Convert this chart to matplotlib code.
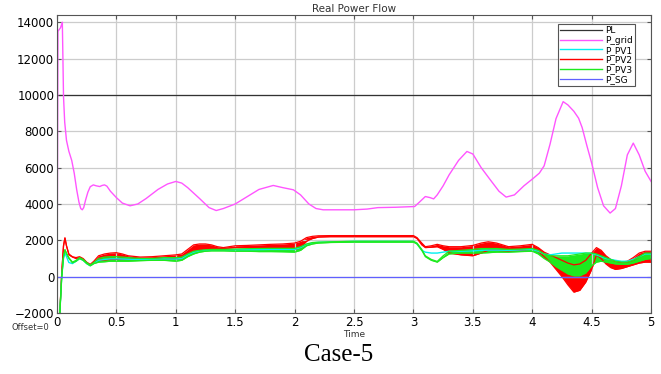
import matplotlib.pyplot as plt
import numpy as np

# P_grid (magenta) trace
t_grid = [0.0, 0.008, 0.03, 0.045, 0.05, 0.055, 0.065, 0.08, 0.1, 0.124, 0.145, 0.166,
          0.185, 0.2, 0.213, 0.225, 0.24, 0.26, 0.28, 0.306, 0.33, 0.36, 0.38, 0.40,
          0.42, 0.45, 0.5, 0.55, 0.615, 0.68, 0.75, 0.85, 0.93, 1.0, 1.05, 1.1, 1.2,
          1.28, 1.34, 1.4, 1.5, 1.6, 1.7, 1.82, 1.9, 1.99, 2.05, 2.12, 2.18, 2.24, 2.4,
          2.5, 2.61, 2.7, 2.85, 3.01, 3.05, 3.1, 3.14, 3.17, 3.2, 3.25, 3.3, 3.38, 3.45,
          3.5, 3.57, 3.65, 3.72, 3.78, 3.85, 3.93, 4.01, 4.06, 4.1, 4.15, 4.2, 4.26,
          4.3, 4.35, 4.39, 4.42, 4.46, 4.5, 4.55, 4.6, 4.655, 4.7, 4.75, 4.8, 4.85, 4.9,
          4.95, 5.0]
p_grid = [-3000, 13500, 13700, 14000, 12000, 9900, 8500, 7500, 6900, 6400, 5700, 4780,
          4100, 3750, 3680, 3800, 4200, 4650, 4950, 5050, 5000, 4960, 5020, 5050,
          4980, 4700, 4350, 4050, 3900, 4000, 4300, 4800, 5100, 5240, 5150, 4900, 4300,
          3800, 3640, 3750, 4000, 4400, 4800, 5020, 4900, 4780, 4500, 4000, 3750, 3680, 3680,
          3680, 3720, 3800, 3820, 3860, 4100, 4410, 4350, 4280, 4500, 5000, 5600, 6400, 6890,
          6750, 6000, 5300, 4700, 4380, 4500, 5000, 5420, 5700, 6100, 7300, 8700, 9630,
          9450, 9100, 8720, 8200, 7200, 6250, 4900, 3900, 3500, 3750, 5000, 6700, 7350, 6700,
          5800, 5240]

# time base shared by the PV traces
t_pv = [0, 0.02, 0.04, 0.055, 0.067, 0.08, 0.1, 0.13, 0.16, 0.19, 0.22, 0.25, 0.28,
        0.31, 0.35, 0.4, 0.45, 0.5, 0.55, 0.6, 0.7, 0.8, 0.9, 1.0, 1.05, 1.1, 1.15, 1.2,
        1.25, 1.3, 1.35, 1.4, 1.5, 1.6, 1.7, 1.8, 1.9, 2.0, 2.05, 2.1, 2.15, 2.2, 2.3,
        2.5, 2.8, 3.0, 3.03, 3.07, 3.1, 3.15, 3.2, 3.25, 3.3, 3.4, 3.5, 3.57, 3.63, 3.7,
        3.8, 3.9, 4.0, 4.05, 4.1, 4.15, 4.2, 4.25, 4.3, 4.35, 4.4, 4.45, 4.5, 4.54, 4.58,
        4.62, 4.66, 4.7, 4.75, 4.8, 4.85, 4.9, 4.95, 5.0]

# P_PV2 (red) oscillation envelope
pv2_hi = [-4000, -2500, 200, 1700, 2130, 1700, 1250, 1100, 1050, 1100, 1000, 800, 680,
          850, 1150, 1250, 1300, 1320, 1250, 1150, 1080, 1100, 1150, 1200, 1250, 1500, 1750,
          1800, 1800, 1750, 1650, 1600, 1700, 1720, 1750, 1780, 1800, 1850, 1950, 2150,
          2220, 2250, 2260, 2260, 2260, 2260, 2150, 1850, 1650, 1700, 1780, 1700, 1650, 1650,
          1720, 1850, 1920, 1850, 1650, 1700, 1780, 1600, 1350, 1200, 1050, 900, 750, 650,
          700, 900, 1300, 1600, 1450, 1150, 950, 850, 800, 850, 1050, 1300, 1400, 1400]
pv2_lo = [-4000, -2500, 200, 1700, 2130, 1700, 1200, 1080, 1000, 1050, 950, 750, 620,
          800, 900, 920, 950, 950, 950, 950, 950, 980, 1000, 980, 1000, 1250, 1400, 1450,
          1500, 1500, 1550, 1550, 1600, 1600, 1580, 1550, 1550, 1500, 1600, 1950, 2100,
          2180, 2200, 2200, 2200, 2200, 2100, 1750, 1600, 1620, 1650, 1500, 1300, 1200, 1150,
          1300, 1450, 1450, 1400, 1450, 1520, 1400, 1100, 800, 400, 0, -450, -850, -750,
          -300, 400, 1200, 1000, 700, 500, 400, 450, 550, 650, 750, 800, 800]

# P_PV3 (green) oscillation envelope
pv3_hi = [-4000, -2500, 0, 1100, 1480, 1300, 1050, 800, 900, 1050, 950, 780, 640,
          780, 1000, 1080, 1100, 1100, 1080, 1050, 1000, 1000, 1050, 1050, 1080, 1250, 1400,
          1450, 1480, 1500, 1500, 1500, 1520, 1540, 1550, 1560, 1560, 1560, 1650, 1800, 1880,
          1900, 1920, 1950, 1950, 1950, 1850, 1500, 1150, 950, 840, 1150, 1400, 1450, 1500,
          1550, 1550, 1550, 1500, 1520, 1550, 1450, 1250, 1150, 1150, 1150, 1150, 1200, 1250,
          1300, 1300, 1250, 1150, 1050, 950, 850, 800, 800, 900, 1100, 1300, 1300]
pv3_lo = [-4000, -2500, 0, 1100, 1480, 1250, 1000, 760, 850, 1000, 900, 720, 600,
          720, 800, 820, 850, 850, 850, 850, 880, 900, 900, 850, 900, 1100, 1250, 1350,
          1400, 1420, 1420, 1420, 1400, 1400, 1380, 1380, 1370, 1350, 1450, 1700, 1800, 1850,
          1880, 1900, 1900, 1900, 1800, 1450, 1100, 900, 800, 1050, 1250, 1300, 1300, 1300,
          1320, 1350, 1350, 1380, 1400, 1250, 1000, 800, 550, 350, 150, 50, 50, 200, 600,
          800, 850, 800, 750, 700, 680, 680, 750, 850, 950, 1000]

# P_PV1 (cyan) trace
pv1 = [-4000, -2500, 0, 1000, 1300, 1100, 780, 720, 850, 1000, 900, 720, 600, 750,
       900, 950, 980, 980, 970, 960, 950, 960, 980, 970, 1000, 1200, 1350, 1420, 1450,
       1460, 1470, 1470, 1480, 1480, 1490, 1500, 1500, 1500, 1600, 1780, 1860, 1890, 1910,
       1940, 1940, 1940, 1800, 1450, 1350, 1300, 1300, 1350, 1400, 1400, 1420, 1450, 1460,
       1460, 1450, 1470, 1500, 1400, 1250, 1200, 1250, 1300, 1300, 1300, 1300, 1300, 1280,
       1200, 1100, 1000, 950, 900, 850, 850, 950, 1100, 1250, 1250]

t_span = [0, 5]
p_load = [10000, 10000]
p_sg = [0, 0]

RED = "#ff0000"
GREEN = "#1eea1e"
CYAN = "#00f0f0"

fig = plt.figure(figsize=(6.61, 3.74), dpi=100)
ax = fig.add_axes([0.0862, 0.163, 0.8988, 0.797])

ax.plot(t_span, p_load, color="#333333", linewidth=0.9, label="PL")
ax.plot(t_grid, p_grid, color="#ff55ff", linewidth=1.0, label="P_grid")
ax.fill_between(t_pv, pv2_lo, pv2_hi, color=RED, linewidth=0)
ax.plot(t_pv, pv2_hi, color=RED, linewidth=0.9)
ax.plot(t_pv, pv2_lo, color=RED, linewidth=0.9)
ax.plot(t_pv, pv1, color=CYAN, linewidth=1.0, label="P_PV1")
ax.fill_between(t_pv, pv3_lo, pv3_hi, color=GREEN, linewidth=0)
ax.plot(t_pv, pv3_hi, color=GREEN, linewidth=0.9)
ax.plot(t_pv, pv3_lo, color=GREEN, linewidth=0.9)
ax.plot([], [], color=RED, linewidth=1.0, label="P_PV2")
ax.plot([], [], color=GREEN, linewidth=1.0, label="P_PV3")
ax.plot(t_span, p_sg, color="#6060ff", linewidth=0.9, label="P_SG")

ax.set_xlim(0, 5)
ax.set_ylim(-2000, 14400)
ax.set_xticks(np.arange(0, 5.01, 0.5))
ax.set_xticklabels(["0", "0.5", "1", "1.5", "2", "2.5", "3", "3.5", "4", "4.5", "5"])
ax.set_yticks(np.arange(-2000, 14001, 2000))
ax.grid(color="#cccccc", linewidth=0.9)
ax.tick_params(direction="in", top=True, right=True, labelsize=8.5, length=3,
               color="#555555", pad=2)
for s in ax.spines.values():
    s.set_color("#555555")
    s.set_linewidth(0.8)

handles, labels = ax.get_legend_handles_labels()
order = ["PL", "P_grid", "P_PV1", "P_PV2", "P_PV3", "P_SG"]
hmap = dict(zip(labels, handles))
leg = ax.legend([hmap[k] for k in order], order, loc="upper right", fontsize=6.5,
                frameon=True, fancybox=False, edgecolor="#555555", handlelength=4.6,
                handletextpad=0.3, labelspacing=0.08, borderpad=0.25,
                bbox_to_anchor=(0.98, 0.985), framealpha=1)
leg.get_frame().set_linewidth(0.8)

ax.set_title("Real Power Flow", fontsize=7.5, color="#333333", pad=2)
ax.set_xlabel("Time", fontsize=6.5, color="#333333", labelpad=1)
fig.text(0.018, 0.118, "Offset=0", fontsize=6, color="#333333")
fig.text(0.512, 0.05, "Case-5", fontsize=18, family="Liberation Serif",
         ha="center", va="center")

fig.savefig("out.png", dpi=100)
